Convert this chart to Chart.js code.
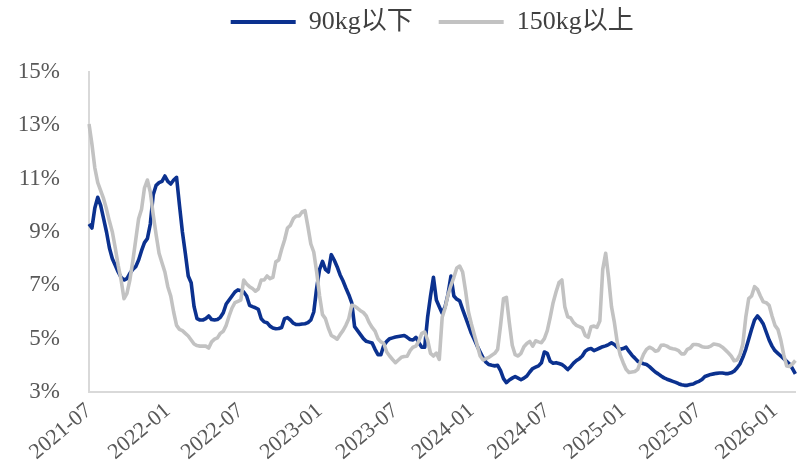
<!DOCTYPE html>
<html>
<head>
<meta charset="utf-8">
<script src="https://cdn.jsdelivr.net/npm/chart.js@4.4.1/dist/chart.umd.min.js"></script>
<style>
  html, body { margin: 0; padding: 0; background: #ffffff; }
  #wrap { width: 798px; height: 470px; }
</style>
</head>
<body>
<div id="wrap"><canvas id="chart" width="798" height="470"></canvas></div>
<script>
// Weekly series, first week of July 2021 onward
const startDate = '2021-07-02';
const weekCount = 243;
const tickMonths = ['01', '07'];
const seriesNames = ['90kg以下', '150kg以上'];
const yTicks = [3, 5, 7, 9, 11, 13, 15];

// 90kg以下 (%)
const under90 = [
  9.3, 9.15, 9.9, 10.3, 10.0, 9.5, 9.0, 8.4, 8.0, 7.75,
  7.5, 7.3, 7.2, 7.25, 7.45, 7.6, 7.7, 7.95, 8.3, 8.6,
  8.75, 9.3, 10.4, 10.75, 10.85, 10.9, 11.1, 10.9, 10.8, 10.95,
  11.05, 10.0, 9.0, 8.2, 7.35, 7.1, 6.2, 5.75, 5.7, 5.7,
  5.75, 5.85, 5.72, 5.7, 5.72, 5.8, 5.97, 6.3, 6.45, 6.6,
  6.75, 6.83, 6.8, 6.75, 6.6, 6.25, 6.2, 6.16, 6.1, 5.75,
  5.63, 5.6, 5.47, 5.4, 5.37, 5.38, 5.42, 5.75, 5.79, 5.7,
  5.58, 5.53, 5.53, 5.55, 5.56, 5.6, 5.7, 6.0, 6.9, 7.6,
  7.9, 7.6, 7.5, 8.15, 7.95, 7.7, 7.4, 7.17, 6.9, 6.65,
  6.35, 5.45, 5.3, 5.15, 5.0, 4.9, 4.87, 4.84, 4.6, 4.4,
  4.4, 4.75, 4.9, 5.0, 5.03, 5.06, 5.08, 5.1, 5.12, 5.05,
  4.97, 4.95, 5.05, 4.85, 4.68, 4.68, 5.8, 6.6, 7.3, 6.45,
  6.2, 5.95, 6.2, 6.67, 7.35, 6.6, 6.48, 6.42, 6.1, 5.8,
  5.5, 5.2, 4.97, 4.72, 4.5, 4.28, 4.12, 4.03, 4.0, 3.98,
  4.0, 3.8, 3.5, 3.35, 3.45, 3.52, 3.58, 3.52, 3.46, 3.52,
  3.6, 3.75, 3.88, 3.93, 3.98, 4.1, 4.5, 4.45, 4.15, 4.08,
  4.1, 4.07, 4.03, 3.95, 3.84, 3.95, 4.08, 4.18, 4.25, 4.35,
  4.53, 4.6, 4.63, 4.55, 4.6, 4.65, 4.7, 4.73, 4.78, 4.84,
  4.78, 4.68, 4.6, 4.63, 4.68, 4.52, 4.38, 4.27, 4.15, 4.1,
  4.06, 4.03, 3.95, 3.85, 3.75, 3.68, 3.6, 3.53, 3.48, 3.44,
  3.4, 3.36, 3.31, 3.27, 3.25, 3.25, 3.28, 3.3, 3.36, 3.4,
  3.47, 3.58, 3.62, 3.66, 3.68, 3.7, 3.71, 3.71, 3.69, 3.69,
  3.72, 3.78, 3.9, 4.05, 4.3, 4.6, 4.98, 5.35, 5.7, 5.85,
  5.72, 5.55, 5.25, 4.95, 4.72, 4.55, 4.45, 4.35, 4.25, 4.15,
  4.05, 3.88, 3.68
];

// 150kg以上 (%)
const over150 = [
  13.05, 12.3, 11.4, 10.85, 10.55, 10.25, 9.85, 9.4, 9.0, 8.4,
  7.75, 7.2, 6.5, 6.7, 7.2, 7.9, 8.7, 9.5, 9.85, 10.65,
  10.95, 10.5, 9.65, 8.9, 8.2, 7.85, 7.5, 6.95, 6.6, 6.0,
  5.5, 5.35, 5.3, 5.2, 5.1, 4.95, 4.8, 4.74, 4.72, 4.72,
  4.72, 4.65, 4.88, 4.98, 5.03, 5.2, 5.28, 5.5, 5.85, 6.15,
  6.35, 6.4, 6.45, 7.2, 7.05, 6.95, 6.88, 6.78, 6.86, 7.2,
  7.2, 7.35, 7.25, 7.3, 7.88, 7.95, 8.35, 8.7, 9.15, 9.25,
  9.5, 9.6, 9.6, 9.75, 9.8, 9.2, 8.55, 8.25, 7.5, 6.6,
  5.9, 5.75, 5.4, 5.12, 5.06, 4.98, 5.15, 5.3, 5.5, 5.75,
  6.25, 6.22, 6.14, 6.05, 5.98, 5.85, 5.6, 5.42, 5.28, 5.0,
  4.88, 4.82, 4.5, 4.35, 4.22, 4.1, 4.2, 4.3, 4.33, 4.34,
  4.55, 4.68, 4.72, 4.92, 5.2, 5.25, 4.95, 4.45, 4.35, 4.46,
  4.22, 5.8, 6.15, 6.65, 7.0, 7.3, 7.65, 7.72, 7.5, 6.8,
  6.0, 5.55, 5.15, 4.75, 4.35, 4.2, 4.25, 4.3, 4.38, 4.45,
  4.6, 5.5, 6.5, 6.55, 5.6, 4.75, 4.4, 4.35, 4.45, 4.7,
  4.82, 4.9, 4.72, 4.92, 4.88, 4.85, 5.0, 5.3, 5.8, 6.35,
  6.75, 7.1, 7.2, 6.2, 5.82, 5.78, 5.6, 5.5, 5.45, 5.4,
  5.12, 5.05, 5.45, 5.47, 5.42, 5.66, 7.6, 8.2, 7.3, 6.2,
  5.6, 4.85, 4.38, 4.1, 3.85, 3.73, 3.75, 3.77, 3.85, 4.15,
  4.42, 4.6, 4.68, 4.63, 4.53, 4.56, 4.75, 4.76, 4.72, 4.65,
  4.62, 4.6, 4.55, 4.43, 4.43, 4.6, 4.65, 4.78, 4.78, 4.76,
  4.7, 4.68, 4.68, 4.72, 4.8, 4.78, 4.75, 4.68, 4.58, 4.47,
  4.35, 4.17, 4.2, 4.4, 4.8, 5.8, 6.5, 6.6, 6.95, 6.85,
  6.6, 6.38, 6.35, 6.25, 5.85, 5.5, 5.35, 4.95, 4.4, 3.98,
  3.96, 4.05, 4.18
];

// Week-ending dates used as category labels
const weeks = [];
const t0 = Date.parse(startDate + 'T00:00:00Z');
for (let i = 0; i < weekCount; i++) {
  weeks.push(new Date(t0 + i * 7 * 86400000).toISOString().slice(0, 10));
}

const FONT = '"Liberation Serif", "Times New Roman", "Noto Sans CJK SC", serif';
const BLUE = '#0b318f';
const GREY = '#c2c2c2';

// Legend placement: wider gap between entries, drawn near the top edge,
// while the plot still starts lower down
const legendPlacement = {
  id: 'legendPlacement',
  beforeLayout(chart) {
    const lg = chart.legend;
    if (lg && !lg._patched) {
      const fit = lg.fit;
      lg.fit = function () { fit.call(this); this.height += 10; };
      lg._patched = true;
    }
  },
  afterLayout(chart) {
    const lg = chart.legend;
    if (!lg) return;
    lg.top -= 17; lg.bottom -= 17;
    lg.left -= 10; lg.right -= 10;
  }
};

new Chart(document.getElementById('chart'), {
  type: 'line',
  data: {
    labels: weeks,
    datasets: [
      {
        label: seriesNames[0], data: under90,
        borderColor: BLUE, backgroundColor: BLUE,
        borderWidth: 3.6, pointRadius: 0, pointBorderWidth: 4,
        tension: 0, borderJoinStyle: 'round', order: 1
      },
      {
        label: seriesNames[1], data: over150,
        borderColor: GREY, backgroundColor: GREY,
        borderWidth: 3.6, pointRadius: 0, pointBorderWidth: 4,
        tension: 0, borderJoinStyle: 'round', order: 0
      }
    ]
  },
  options: {
    responsive: false,
    animation: false,
    events: [],
    layout: { padding: { left: 0, right: 2, top: 0, bottom: 0 } },
    plugins: {
      tooltip: { enabled: false },
      legend: {
        position: 'top',
        fullSize: false,
        labels: {
          usePointStyle: true,
          pointStyleWidth: 65,
          pointStyle: 'line',
          padding: 26,
          color: '#404040',
          font: { family: FONT, size: 26 },
          sort: (a, b) => a.datasetIndex - b.datasetIndex
        }
      }
    },
    scales: {
      x: {
        grid: { display: false, drawTicks: false },
        border: { display: true, color: '#d9d9d9', width: 2 },
        ticks: {
          autoSkip: false,
          minRotation: 40,
          maxRotation: 40,
          padding: 6,
          color: '#595959',
          font: { family: FONT, size: 22 },
          callback(value, index) {
            const d = weeks[index];
            const m = d.slice(5, 7);
            const day = +d.slice(8, 10);
            return (tickMonths.includes(m) && day <= 7) ? d.slice(0, 7) : null;
          }
        },
        afterFit(scale) { scale.height = 78; }
      },
      y: {
        min: 3,
        max: 15,
        afterBuildTicks(scale) { scale.ticks = yTicks.map(v => ({ value: v })); },
        grid: { display: false, drawTicks: false },
        border: { display: true, color: '#d9d9d9', width: 2 },
        ticks: {
          padding: 29,
          color: '#595959',
          font: { family: FONT, size: 23 },
          callback: v => v + '%'
        },
        afterFit(scale) { scale.width = 89; }
      }
    }
  },
  plugins: [legendPlacement]
});
</script>
</body>
</html>
